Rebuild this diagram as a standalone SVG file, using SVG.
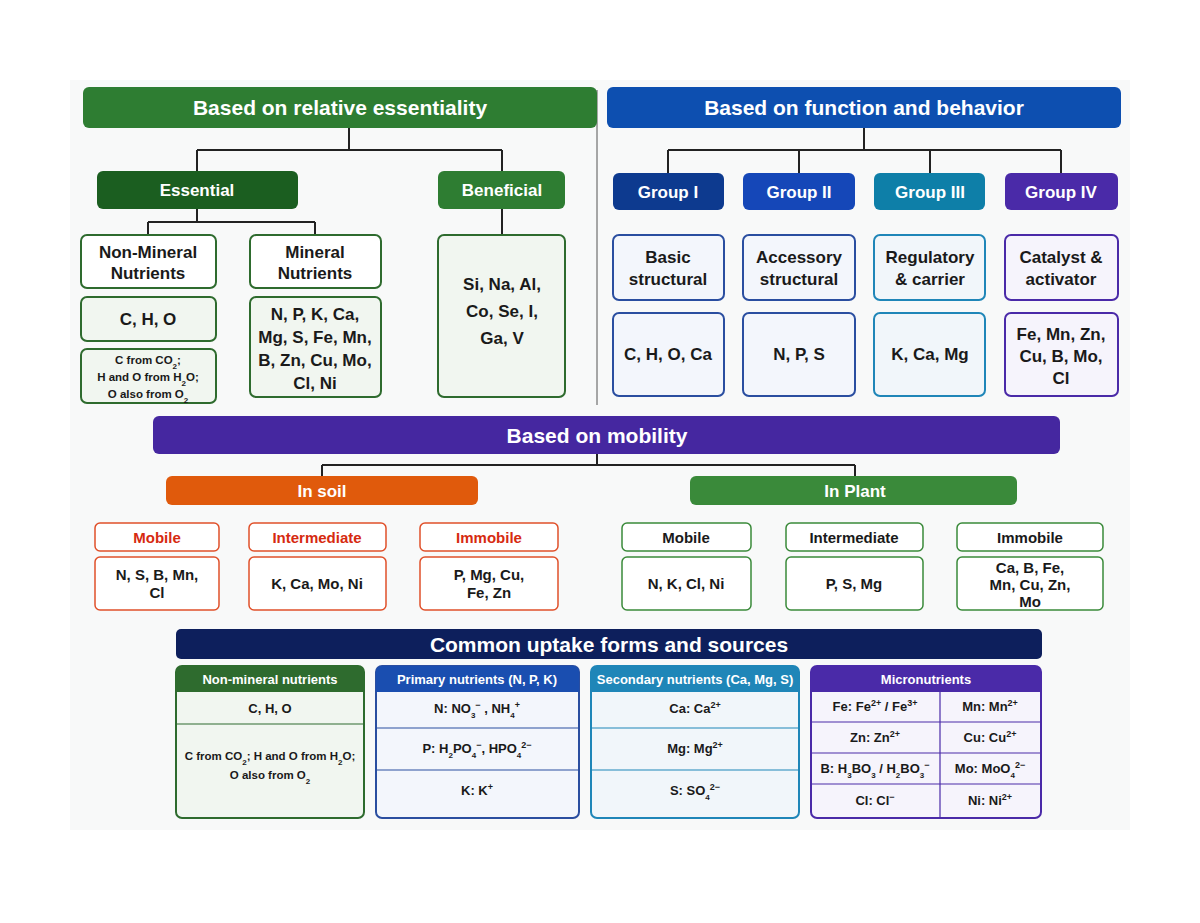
<svg xmlns="http://www.w3.org/2000/svg" width="1200" height="923" viewBox="0 0 1200 923">
<style>
text{font-family:"Liberation Sans","Noto Sans",sans-serif;font-weight:bold;text-anchor:middle;fill:#1a1a1a}
.w{fill:#fff}
.h{font-size:21px}
.m{font-size:17px}
.s{font-size:15px}
.x{font-size:13px}
.y{font-size:11.5px}
.sb{font-size:8px;baseline-shift:sub}
.sp{font-size:9px;baseline-shift:super}
.ln{stroke:#222;stroke-width:2;fill:none}
.g{fill:#fff;stroke:#2e6b2e;stroke-width:2}
.gl{fill:#f1f6f0;stroke:#2e6b2e;stroke-width:2}
.b{fill:#f3f6fc;stroke:#2a4ea0;stroke-width:2}
.t{fill:#f1f6fa;stroke:#1f86b8;stroke-width:2}
.p{fill:#f6f4fc;stroke:#4a2aa8;stroke-width:2}
.o{fill:#fff;stroke:#e0502a;stroke-width:1.5}
.gp{fill:#fff;stroke:#3a8a3a;stroke-width:1.5}
.rw{stroke-width:1.2}
</style>
<rect width="1200" height="923" fill="#fff"/>
<rect x="70" y="80" width="1060" height="750" fill="#f8f9f9"/>
<g id="connectors">
<path class="ln" d="M349 128V150M197 150H502M197 150V171M502 150V171M197 209V222M148 222H315M148 222V235M315 222V235M502 209V235"/>
<path class="ln" d="M864 128V150M668 150H1061M668 150V173M799 150V173M930 150V173M1061 150V173"/>
<path d="M597 90V405" stroke="#555" stroke-width="1"/>
<path class="ln" d="M597 454V465M322 465H855M322 465V476M855 465V476"/>
</g>
<g id="n-ess-head"><rect x="83" y="87" width="514" height="41" rx="6" fill="#2e7d32"/><text class="h w" x="340" y="115">Based on relative essentiality</text></g>
<g id="n-fun-head"><rect x="607" y="87" width="514" height="41" rx="6" fill="#0d4fb0"/><text class="h w" x="864" y="115">Based on function and behavior</text></g>
<g id="n-essential"><rect x="97" y="171" width="201" height="38" rx="6" fill="#1b5e20"/><text class="m w" x="197" y="196">Essential</text></g>
<g id="n-beneficial"><rect x="438" y="171" width="127" height="38" rx="6" fill="#2e7d32"/><text class="m w" x="502" y="196">Beneficial</text></g>
<g id="n-nonmin"><rect class="g" x="81" y="235" width="135" height="53" rx="6"/><text class="m" x="148" y="258">Non-Mineral</text><text class="m" x="148" y="279">Nutrients</text></g>
<g id="n-min"><rect class="g" x="250" y="235" width="131" height="53" rx="6"/><text class="m" x="315" y="258">Mineral</text><text class="m" x="315" y="279">Nutrients</text></g>
<g id="n-cho"><rect class="gl" x="81" y="297" width="135" height="44" rx="6"/><text class="m" x="148" y="325">C, H, O</text></g>
<g id="n-cho-note"><rect class="gl" x="81" y="349" width="135" height="54" rx="6"/><text class="y" x="148" y="364">C from CO<tspan class="sb">2</tspan>;</text><text class="y" x="148" y="381">H and O from H<tspan class="sb">2</tspan>O;</text><text class="y" x="148" y="398">O also from O<tspan class="sb">2</tspan></text></g>
<g id="n-minlist"><rect class="gl" x="250" y="297" width="131" height="100" rx="6"/><text class="m" x="315" y="320">N, P, K, Ca,</text><text class="m" x="315" y="343">Mg, S, Fe, Mn,</text><text class="m" x="315" y="366">B, Zn, Cu, Mo,</text><text class="m" x="315" y="389">Cl, Ni</text></g>
<g id="n-benlist"><rect class="gl" x="438" y="235" width="127" height="162" rx="6"/><text class="m" x="502" y="290">Si, Na, Al,</text><text class="m" x="502" y="317">Co, Se, I,</text><text class="m" x="502" y="344">Ga, V</text></g>

<g id="n-g1"><rect x="613" y="173" width="111" height="37" rx="6" fill="#0d3a8f"/><text class="m w" x="668" y="198">Group I</text></g>
<g id="n-g2"><rect x="743" y="173" width="112" height="37" rx="6" fill="#1547b8"/><text class="m w" x="799" y="198">Group II</text></g>
<g id="n-g3"><rect x="874" y="173" width="111" height="37" rx="6" fill="#0e7fa8"/><text class="m w" x="930" y="198">Group III</text></g>
<g id="n-g4"><rect x="1005" y="173" width="113" height="37" rx="6" fill="#4a2aa8"/><text class="m w" x="1061" y="198">Group IV</text></g>
<g id="n-g1r"><rect class="b" x="613" y="235" width="111" height="65" rx="6"/><text class="m" x="668" y="263">Basic</text><text class="m" x="668" y="285">structural</text></g>
<g id="n-g2r"><rect class="b" x="743" y="235" width="112" height="65" rx="6"/><text class="m" x="799" y="263">Accessory</text><text class="m" x="799" y="285">structural</text></g>
<g id="n-g3r"><rect class="t" x="874" y="235" width="111" height="65" rx="6"/><text class="m" x="930" y="263">Regulatory</text><text class="m" x="930" y="285">&amp; carrier</text></g>
<g id="n-g4r"><rect class="p" x="1005" y="235" width="113" height="65" rx="6"/><text class="m" x="1061" y="263">Catalyst &amp;</text><text class="m" x="1061" y="285">activator</text></g>
<g id="n-g1v"><rect class="b" x="613" y="313" width="111" height="83" rx="6"/><text class="m" x="668" y="360">C, H, O, Ca</text></g>
<g id="n-g2v"><rect class="b" x="743" y="313" width="112" height="83" rx="6"/><text class="m" x="799" y="360">N, P, S</text></g>
<g id="n-g3v"><rect class="t" x="874" y="313" width="111" height="83" rx="6"/><text class="m" x="930" y="360">K, Ca, Mg</text></g>
<g id="n-g4v"><rect class="p" x="1005" y="313" width="113" height="83" rx="6"/><text class="m" x="1061" y="340">Fe, Mn, Zn,</text><text class="m" x="1061" y="362">Cu, B, Mo,</text><text class="m" x="1061" y="384">Cl</text></g>

<g id="n-mob-head"><rect x="153" y="416" width="907" height="38" rx="6" fill="#4527a0"/><text class="h w" x="597" y="443">Based on mobility</text></g>
<g id="n-soil"><rect x="166" y="476" width="312" height="29" rx="6" fill="#e05a0c"/><text class="m w" x="322" y="497">In soil</text></g>
<g id="n-plant"><rect x="690" y="476" width="327" height="29" rx="6" fill="#3a8a3a"/><text class="m w" x="855" y="497">In Plant</text></g>
<g id="n-s-mob"><rect class="o" x="95" y="523" width="124" height="28" rx="5"/><text class="s" x="157" y="543" style="fill:#d62a10">Mobile</text><rect class="o" x="95" y="557" width="124" height="53" rx="5"/><text class="s" x="157" y="580">N, S, B, Mn,</text><text class="s" x="157" y="598">Cl</text></g>
<g id="n-s-int"><rect class="o" x="249" y="523" width="137" height="28" rx="5"/><text class="s" x="317" y="543" style="fill:#d62a10">Intermediate</text><rect class="o" x="249" y="557" width="137" height="53" rx="5"/><text class="s" x="317" y="589">K, Ca, Mo, Ni</text></g>
<g id="n-s-imm"><rect class="o" x="420" y="523" width="138" height="28" rx="5"/><text class="s" x="489" y="543" style="fill:#d62a10">Immobile</text><rect class="o" x="420" y="557" width="138" height="53" rx="5"/><text class="s" x="489" y="580">P, Mg, Cu,</text><text class="s" x="489" y="598">Fe, Zn</text></g>
<g id="n-p-mob"><rect class="gp" x="622" y="523" width="129" height="28" rx="5"/><text class="s" x="686" y="543">Mobile</text><rect class="gp" x="622" y="557" width="129" height="53" rx="5"/><text class="s" x="686" y="589">N, K, Cl, Ni</text></g>
<g id="n-p-int"><rect class="gp" x="786" y="523" width="137" height="28" rx="5"/><text class="s" x="854" y="543">Intermediate</text><rect class="gp" x="786" y="557" width="137" height="53" rx="5"/><text class="s" x="854" y="589">P, S, Mg</text></g>
<g id="n-p-imm"><rect class="gp" x="957" y="523" width="146" height="28" rx="5"/><text class="s" x="1030" y="543">Immobile</text><rect class="gp" x="957" y="557" width="146" height="53" rx="5"/><text class="s" x="1030" y="573">Ca, B, Fe,</text><text class="s" x="1030" y="590">Mn, Cu, Zn,</text><text class="s" x="1030" y="607">Mo</text></g>

<g id="n-up-head"><rect x="176" y="629" width="866" height="30" rx="5" fill="#0d1f5c"/><text class="h w" x="609" y="652">Common uptake forms and sources</text></g>
<g id="n-t1"><rect x="176" y="666" width="188" height="152" rx="6" class="gl"/><path d="M176 672a6 6 0 0 1 6-6h176a6 6 0 0 1 6 6v20H176z" fill="#2e6b2e"/><text class="x w" x="270" y="684">Non-mineral nutrients</text><path d="M176 724H364" stroke="#2e6b2e" class="rw"/><text class="x" x="270" y="713">C, H, O</text><text class="y" x="270" y="760">C from CO<tspan class="sb">2</tspan>; H and O from H<tspan class="sb">2</tspan>O;</text><text class="y" x="270" y="779">O also from O<tspan class="sb">2</tspan></text></g>
<g id="n-t2"><rect x="376" y="666" width="203" height="152" rx="6" class="b"/><path d="M376 672a6 6 0 0 1 6-6h191a6 6 0 0 1 6 6v20H376z" fill="#1a4eb0"/><text class="x w" x="477" y="684">Primary nutrients (N, P, K)</text><path d="M376 728H579M376 770H579" stroke="#2a4ea0" class="rw"/><text class="x" x="477" y="713">N: NO<tspan class="sb">3</tspan><tspan class="sp">−</tspan> , NH<tspan class="sb">4</tspan><tspan class="sp">+</tspan></text><text class="x" x="477" y="753">P: H<tspan class="sb">2</tspan>PO<tspan class="sb">4</tspan><tspan class="sp">−</tspan>, HPO<tspan class="sb">4</tspan><tspan class="sp">2−</tspan></text><text class="x" x="477" y="795">K: K<tspan class="sp">+</tspan></text></g>
<g id="n-t3"><rect x="591" y="666" width="208" height="152" rx="6" class="t"/><path d="M591 672a6 6 0 0 1 6-6h196a6 6 0 0 1 6 6v20H591z" fill="#1f86b8"/><text class="x w" x="695" y="684">Secondary nutrients (Ca, Mg, S)</text><path d="M591 728H799M591 770H799" stroke="#1f86b8" class="rw"/><text class="x" x="695" y="713">Ca: Ca<tspan class="sp">2+</tspan></text><text class="x" x="695" y="753">Mg: Mg<tspan class="sp">2+</tspan></text><text class="x" x="695" y="795">S: SO<tspan class="sb">4</tspan><tspan class="sp">2−</tspan></text></g>
<g id="n-t4"><rect x="811" y="666" width="230" height="152" rx="6" class="p"/><path d="M811 672a6 6 0 0 1 6-6h218a6 6 0 0 1 6 6v20H811z" fill="#4a2aa8"/><text class="x w" x="926" y="684">Micronutrients</text><path d="M811 722H1041M811 753H1041M811 784H1041M940 692V818" stroke="#4a2aa8" class="rw"/><text class="x" x="875" y="711">Fe: Fe<tspan class="sp">2+</tspan> / Fe<tspan class="sp">3+</tspan></text><text class="x" x="990" y="711">Mn: Mn<tspan class="sp">2+</tspan></text><text class="x" x="875" y="742">Zn: Zn<tspan class="sp">2+</tspan></text><text class="x" x="990" y="742">Cu: Cu<tspan class="sp">2+</tspan></text><text class="x" x="875" y="773">B: H<tspan class="sb">3</tspan>BO<tspan class="sb">3</tspan> / H<tspan class="sb">2</tspan>BO<tspan class="sb">3</tspan><tspan class="sp">−</tspan></text><text class="x" x="990" y="773">Mo: MoO<tspan class="sb">4</tspan><tspan class="sp">2−</tspan></text><text class="x" x="875" y="805">Cl: Cl<tspan class="sp">−</tspan></text><text class="x" x="990" y="805">Ni: Ni<tspan class="sp">2+</tspan></text></g>
</svg>
